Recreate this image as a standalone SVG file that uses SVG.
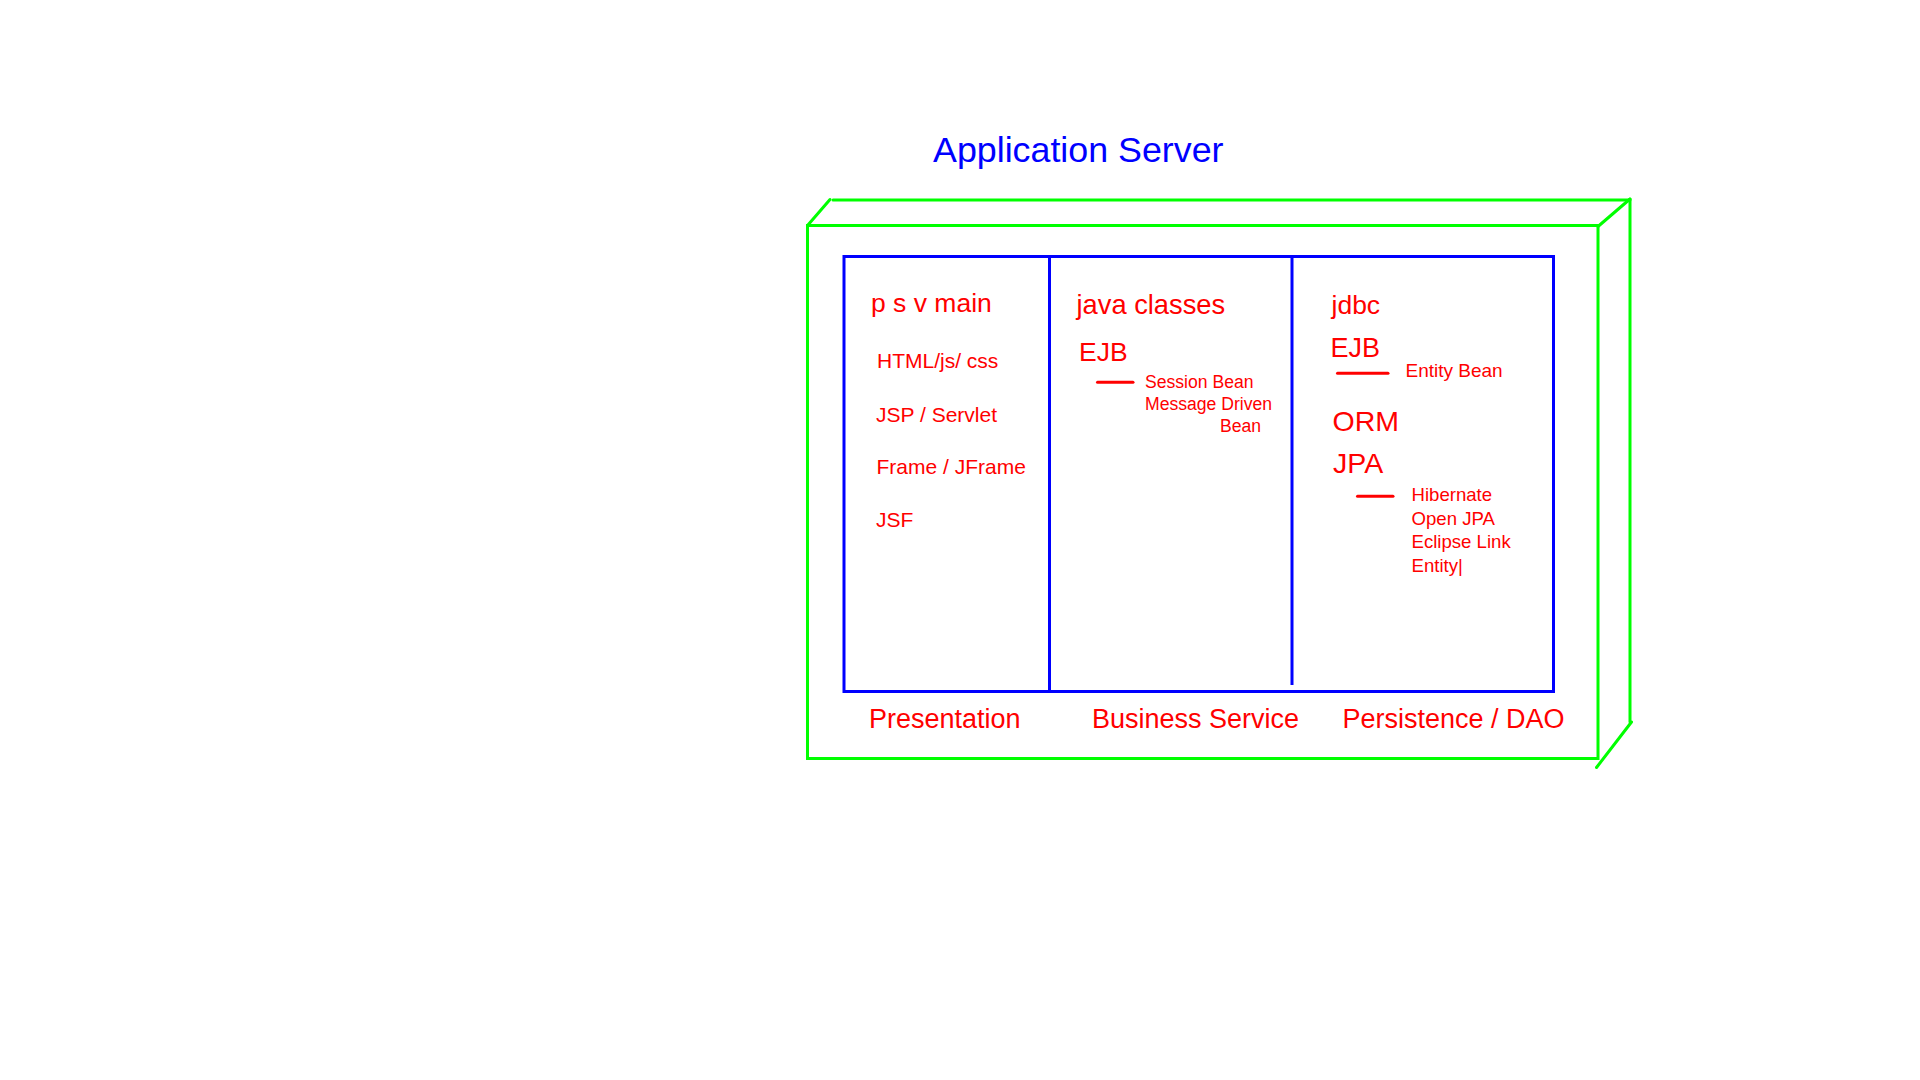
<svg xmlns="http://www.w3.org/2000/svg" width="1920" height="1080" viewBox="0 0 1920 1080">
<style>
  .bg { fill: #FFFFFF; }
  .green { fill: none; stroke: #00FF00; stroke-width: 3; stroke-linecap: round; }
  .blue { fill: none; stroke: #0000FF; stroke-width: 3; }
  .dash { stroke: #FF0000; stroke-width: 3; stroke-linecap: round; }
  text { font-family: "Liberation Sans", Arial, sans-serif; }
  .title { fill: #0000FF; font-size: 35.8px; }
  .red { fill: #FF0000; }
  .big { font-size: 26.5px; }
  .mid { font-size: 21px; }
  .small { font-size: 17.6px; }
  .sm2 { font-size: 18.6px; }
  .layer { font-size: 27px; }
</style>
<rect class="bg" x="0" y="0" width="1920" height="1080"/>

<g id="title">
  <text class="title" x="933" y="162">Application Server</text>
</g>

<g id="app-server-box">
  <rect class="green" x="807.5" y="225.5" width="790.5" height="533"/>
  <line class="green" x1="807.5" y1="225.5" x2="830" y2="199.5"/>
  <line class="green" x1="833" y1="200" x2="1630" y2="200"/>
  <line class="green" x1="1598" y1="226.5" x2="1630" y2="199"/>
  <line class="green" x1="1630" y1="199" x2="1630" y2="722"/>
  <line class="green" x1="1631.5" y1="722" x2="1596.5" y2="767.5"/>
</g>

<g id="layers-box">
  <rect class="blue" x="844" y="256.5" width="709.5" height="435"/>
  <line class="blue" x1="1049.5" y1="256.5" x2="1049.5" y2="691"/>
  <line class="blue" x1="1292" y1="256.5" x2="1292" y2="685"/>
</g>

<g id="presentation">
  <text class="red big" x="871" y="311.5">p s v main</text>
  <text class="red mid" x="877" y="368">HTML/js/ css</text>
  <text class="red mid" x="876" y="422">JSP / Servlet</text>
  <text class="red mid" x="876.5" y="474">Frame / JFrame</text>
  <text class="red mid" x="876" y="526.5">JSF</text>
  <text class="red layer" x="869" y="728">Presentation</text>
</g>

<g id="business-service">
  <text class="red" style="font-size:27.3px" x="1076.5" y="314">java classes</text>
  <text class="red big" x="1079" y="360.5">EJB</text>
  <text class="red small" x="1145" y="388.3">Session Bean</text>
  <text class="red small" x="1145" y="410">Message Driven</text>
  <text class="red small" x="1220" y="431.7">Bean</text>
  <text class="red layer" x="1092" y="728">Business Service</text>
</g>

<g id="persistence">
  <text class="red big" x="1331.5" y="314">jdbc</text>
  <text class="red" style="font-size:27px" x="1330.5" y="356.5">EJB</text>
  <text class="red" style="font-size:19px" x="1405.5" y="376.5">Entity Bean</text>
  <text class="red" style="font-size:28.5px" x="1332.5" y="431">ORM</text>
  <text class="red" style="font-size:28.5px" x="1333" y="473">JPA</text>
  <text class="red sm2" x="1411.5" y="500.5">Hibernate</text>
  <text class="red sm2" x="1411.5" y="524.5">Open JPA</text>
  <text class="red sm2" x="1411.5" y="548.3">Eclipse Link</text>
  <text class="red sm2" x="1411.5" y="572.3">Entity|</text>
  <text class="red layer" x="1342.5" y="728">Persistence / DAO</text>
</g>

<g id="connectors">
  <line class="dash" x1="1097.5" y1="382.3" x2="1133" y2="382.3"/>
  <line class="dash" x1="1337.5" y1="373.3" x2="1388" y2="373.3"/>
  <line class="dash" x1="1357.5" y1="496.3" x2="1393" y2="496.3"/>
</g>
</svg>
